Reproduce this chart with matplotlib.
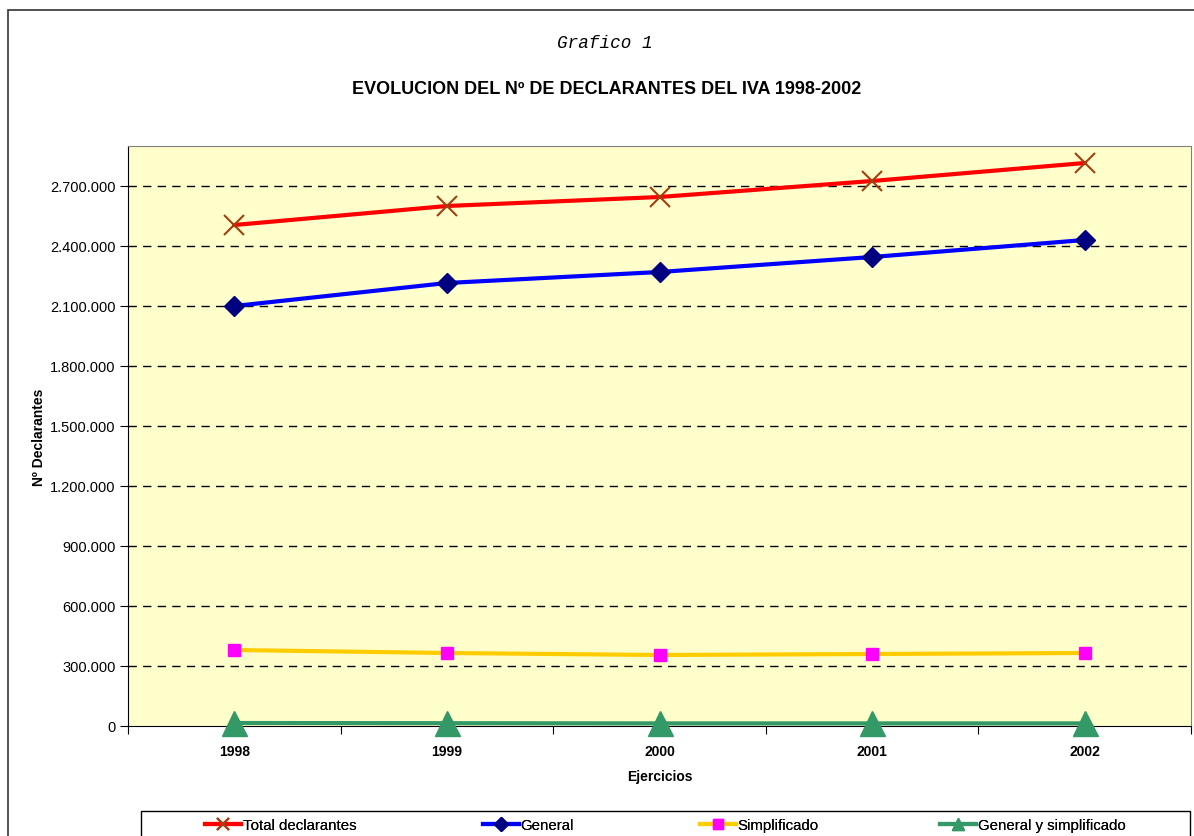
import matplotlib.pyplot as plt
import matplotlib.patches as patches
from matplotlib.lines import Line2D
from matplotlib.ticker import FuncFormatter, FixedLocator

years = ["1998", "1999", "2000", "2001", "2002"]
total = [2505000, 2600000, 2645000, 2725000, 2815000]
general = [2100000, 2215000, 2270000, 2345000, 2430000]
simplificado = [380000, 365000, 355000, 360000, 365000]
gen_y_simp = [15000, 14000, 13000, 13000, 13000]

W, H = 1194, 837
fig = plt.figure(figsize=(11.94, 8.37), dpi=100)
ax = fig.add_axes([128/W, 1-727/H, 1063/W, 580/H])
ax.set_facecolor("#FFFFCC")

styles = [
    dict(color="#FF0000", marker="x", mec="#A0410D", mfc="#A0410D", mew=1.5),
    dict(color="#0000FF", marker="D", mec="#000080", mfc="#000080"),
    dict(color="#FFCC00", marker="s", mec="#FF00FF", mfc="#FF00FF"),
    dict(color="#339966", marker="^", mec="#339966", mfc="#339966"),
]
sizes = [15, 10, 8, 18]
leg_sizes = [9, 7, 7, 9]
names = ["Total declarantes", "General", "Simplificado", "General y simplificado"]
series = [total, general, simplificado, gen_y_simp]

x = list(range(len(years)))
for vals, st, ms in zip(series, styles, sizes):
    ax.plot(x, vals, lw=3, ms=ms, zorder=4, clip_on=False, **st)

ax.set_xlim(-0.5, 4.5)
ax.set_ylim(0, 2900000)
ax.set_yticks(range(0, 2700001, 300000))
ax.yaxis.set_major_formatter(FuncFormatter(
    lambda v, p: "0" if v == 0 else f"{int(v):,}".replace(",", ".")))
for v in range(300000, 2700001, 300000):
    ax.axhline(v, color="black", lw=1, ls=(0, (6, 4.5)), zorder=1)

ax.xaxis.set_major_locator(FixedLocator([-0.5, 0.5, 1.5, 2.5, 3.5, 4.5]))
ax.xaxis.set_major_formatter(FuncFormatter(lambda v, p: ""))
ax.xaxis.set_minor_locator(FixedLocator(x))
ax.set_xticklabels(years, minor=True, fontweight="bold", fontsize=10,
                   family="Liberation Sans")
ax.tick_params(axis="x", which="minor", length=0, pad=13)
ax.tick_params(axis="x", which="major", length=6, direction="out")
ax.tick_params(axis="y", length=6, direction="out", labelsize=10.5, pad=3)
for lab in ax.get_yticklabels():
    lab.set_family("Liberation Sans")

ax.spines["top"].set_color("#808080")
ax.spines["right"].set_color("#808080")
ax.spines["left"].set_color("black")
ax.spines["bottom"].set_color("black")

ax.set_xlabel("Ejercicios", fontweight="bold", fontsize=10,
              family="Liberation Sans", labelpad=8)
ax.set_ylabel("Nº Declarantes", fontweight="bold", fontsize=10,
              family="Liberation Sans", labelpad=3)

fig.text(605/W, 1-44/H, "Grafico 1", ha="center", va="center",
         family="Liberation Mono", style="italic", fontsize=12.7)
fig.text(607/W, 1-89/H, "EVOLUCION DEL Nº DE DECLARANTES DEL IVA 1998-2002",
         ha="center", va="center", family="Liberation Sans",
         fontweight="bold", fontsize=13)

# legend: one entry per column, placed where the reference has them
leg_x = [205, 483, 700, 940]
for name, st, ms, lx in zip(names, styles, leg_sizes, leg_x):
    h = Line2D([], [], lw=3, ms=ms, **st)
    lg = fig.legend(handles=[h], labels=[name], loc="center left",
                    bbox_to_anchor=(lx/W, 1-826/H), frameon=False,
                    prop={"family": "Liberation Sans", "size": 10.8},
                    handlelength=2.4, handletextpad=0.1,
                    borderpad=0, borderaxespad=0)
    fig.add_artist(lg)

fig.patches.append(patches.Rectangle((141/W, -4/H), 1049/W, 29/H,
                                     transform=fig.transFigure, fill=False,
                                     edgecolor="black", lw=1))
fig.patches.append(patches.Rectangle((8/W, -0.05), 1.1, 1.05 - 11/H,
                                     transform=fig.transFigure, fill=False,
                                     edgecolor="#333333", lw=1.2))

fig.savefig("out.png", dpi=100)
